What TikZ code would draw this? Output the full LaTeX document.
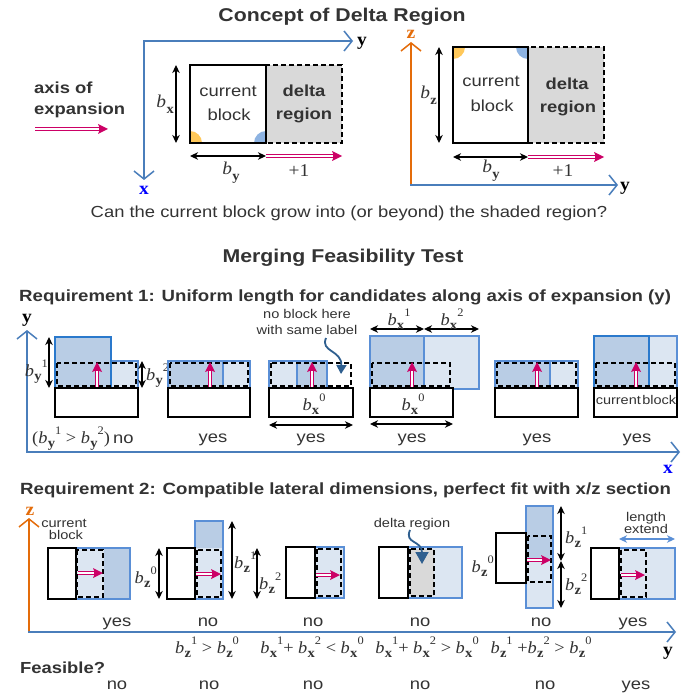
\documentclass[tikz,border=0pt]{standalone}
\usepackage{fontspec}
\setmainfont[FakeStretch=1.15]{Liberation Sans}
\newfontfamily\tms[FakeStretch=1.08]{Liberation Serif}
\usetikzlibrary{arrows.meta,calc}

\definecolor{axb}{HTML}{4A7EBB}
\definecolor{axo}{HTML}{E46C0A}
\definecolor{bdr}{HTML}{5A8FD6}
\definecolor{bdrd}{HTML}{2A79CC}
\definecolor{fdk}{HTML}{B9CDE5}
\definecolor{flt}{HTML}{DCE6F2}
\definecolor{dgray}{HTML}{D9D9D9}
\definecolor{pk}{HTML}{CC0066}
\definecolor{txt}{HTML}{333333}
\definecolor{cur}{HTML}{2F5F8F}
\definecolor{qy}{HTML}{FFC85A}
\definecolor{qb}{HTML}{8DB3E2}

% font size helper and the b_{x}^{n} dimension symbol
\newcommand\fs[1]{\fontsize{#1}{#1}\selectfont}
\newcommand\bl[2]{{\itshape b}\kern0.3pt\raisebox{-0.28em}{\fs{13.5}\bfseries #1}\raisebox{0.5em}{\fs{11.5}#2}}

\tikzset{
  axisarr/.style={line width=1.8pt, line cap=rect, -{Straight Barb[length=8pt,width=20pt,line width=1.5pt]}},
  cblock/.style={draw=black, line width=2.4pt, fill=white},
  cand/.style={draw=bdr, line width=2pt},
  dsh/.style={draw=black, line width=1.7pt, dash pattern=on 5pt off 3pt},
  dimarr/.style={line width=1.1pt, {Stealth[length=8pt,width=7.5pt,inset=2.5pt]}-{Stealth[length=8pt,width=7.5pt,inset=2.5pt]}},
  growarr/.style={draw=pk, line width=3.8pt, -{Stealth[length=10pt,width=10pt,inset=2pt,line width=0pt]},
    postaction={draw=white, line width=1.4pt, arrows=-, shorten >=9pt}},
  pointer/.style={draw=cur, line width=1.8pt, -{Triangle[length=9pt,width=10pt]}},
  lbl/.style={inner sep=0pt, text=txt},
  sanslbl/.style={lbl, font=\fs{16}},
  bsanslbl/.style={lbl, font=\fs{16}\bfseries},
  smalllbl/.style={lbl, font=\fs{12.7}},
  mlbl/.style={lbl, font=\tms\fs{17}},
  axl/.style={inner sep=0pt, font=\tms\fs{18}\bfseries},
}

\begin{document}
\begin{tikzpicture}[x=1pt,y=-1pt]
\fill[white] (0,0) rectangle (698,695);
\useasboundingbox (0,0) rectangle (698,695);

% ---------------- Concept of Delta Region ----------------
\node[lbl, font=\fs{18.5}\bfseries, anchor=base] (title1) at (342,22) {Concept of Delta Region};

% x/y view
\draw[axisarr, axb] (144,41) -- (353,41);
\draw[axisarr, axb] (144,41) -- (144,180);
\node[axl, anchor=base] (ay1) at (362,46) {y};
\node[axl, anchor=base, text=blue] (ax1) at (144,194) {x};

\node[bsanslbl, anchor=base west] (aoe1) at (34,94) {axis of};
\node[bsanslbl, anchor=base west] (aoe2) at (34,115) {expansion};
\draw[growarr] (35,129) -- (108,129);

\filldraw[fill=dgray, dsh] (266,65) rectangle (342,143);
\fill[white] (190,65) rectangle (266,143);
\begin{scope}
  \clip (190,65) rectangle (266,143);
  \fill[qy] (190,143) circle[radius=12];
  \fill[qb] (266,143) circle[radius=12];
\end{scope}
\draw[line width=2.4pt] (190,65) rectangle (266,143);
\node[sanslbl, anchor=base] (cb1a) at (228,97) {current};
\node[sanslbl, anchor=base] (cb1b) at (229,121) {block};
\node[bsanslbl, anchor=base] (dr1a) at (304,97) {delta};
\node[bsanslbl, anchor=base] (dr1b) at (304,120) {region};
\draw[dimarr] (176,65) -- (176,143);
\node[mlbl, font=\tms\fs{18}, anchor=base east] (bx1) at (174,108) {\bl{x}{}};
\draw[dimarr] (190,156) -- (266,156);
\node[mlbl, font=\tms\fs{18}, anchor=base] (by1) at (231,175) {\bl{y}{}};
\draw[growarr] (266,156) -- (342,156);
\node[mlbl, font=\tms\fs{18}, anchor=base] (p1) at (299,177) {+1};

% y/z view
\draw[axisarr, axo] (411,185) -- (411,42);
\draw[axisarr, axb] (411,185) -- (618,185);
\node[axl, anchor=base, text=axo] (az1) at (411,39) {z};
\node[axl, anchor=base] (ay2) at (625,190) {y};

\filldraw[fill=dgray, dsh] (528,47) rectangle (604,143);
\fill[white] (453,47) rectangle (528,143);
\begin{scope}
  \clip (453,47) rectangle (528,143);
  \fill[qy] (453,47) circle[radius=12];
  \fill[qb] (528,47) circle[radius=12];
\end{scope}
\draw[line width=2.4pt] (453,47) rectangle (528,143);
\node[sanslbl, anchor=base] (cb2a) at (491,87) {current};
\node[sanslbl, anchor=base] (cb2b) at (492,112) {block};
\node[bsanslbl, anchor=base] (dr2a) at (567,90) {delta};
\node[bsanslbl, anchor=base] (dr2b) at (568,113) {region};
\draw[dimarr] (439,47) -- (439,143);
\node[mlbl, font=\tms\fs{18}, anchor=base east] (bz1) at (437,99) {\bl{z}{}};
\draw[dimarr] (453,157) -- (528,157);
\node[mlbl, font=\tms\fs{18}, anchor=base] (by2) at (491,173) {\bl{y}{}};
\draw[growarr] (528,157) -- (604,157);
\node[mlbl, font=\tms\fs{18}, anchor=base] (p2) at (563,176) {+1};

\node[sanslbl, anchor=base] (q1) at (349,217) {Can the current block grow into (or beyond) the shaded region?};

% ---------------- Merging Feasibility Test ----------------
\node[lbl, font=\fs{18.5}\bfseries, anchor=base] (title2) at (343,262) {Merging Feasibility Test};

% Requirement 1
\node[lbl, font=\fs{16.2}\bfseries, anchor=base west] (r1) at (19,301) {Requirement 1: Uniform length for candidates along axis of expansion (y)};
\draw[axisarr, axb] (27,452) -- (27,330);
\draw[axisarr, axb] (27,452) -- (680,452);
\node[axl, anchor=base] (ay3) at (27,322) {y};
\node[axl, anchor=base, text=blue] (ax3) at (668,473) {x};

% case 1
\filldraw[fill=flt, cand] (111,361) rectangle (138,388);
\filldraw[fill=fdk, cand, draw=bdrd] (55,337) rectangle (111,388);
\draw[dsh] (57,363) rectangle (136,386);
\draw[growarr] (97,388) -- (97,362);
\draw[cblock] (55,388) rectangle (138,417);
\draw[dimarr] (49,337) -- (49,388);
\draw[dimarr] (142,361) -- (142,388);
\node[mlbl, anchor=base east] (l1a) at (48,376) {\bl{y}{1}};
\node[mlbl, anchor=base west] (l1b) at (146,380) {\bl{y}{2}};
\node[lbl, anchor=base west] (v1) at (32,443) {{\tms\fs{17}(\bl{y}{1} > \bl{y}{2})} {\fs{16}no}};

% case 2
\filldraw[fill=fdk, cand] (168,361) rectangle (223,388);
\filldraw[fill=flt, cand] (223,361) rectangle (250,388);
\draw[dsh] (170,363) rectangle (248,386);
\draw[growarr] (210,388) -- (210,362);
\draw[cblock] (168,388) rectangle (250,417);
\node[sanslbl, anchor=base] (v2) at (213,442) {yes};

% case 3
\filldraw[fill=flt, cand] (269,361) rectangle (297,388);
\filldraw[fill=fdk, cand] (297,361) rectangle (327,388);
\draw[dsh] (271,363) rectangle (351,386);
\draw[growarr] (312,388) -- (312,362);
\draw[cblock] (269,388) rectangle (353,417);
\node[mlbl, anchor=base] (l3) at (314,410) {\bl{x}{0}};
\draw[dimarr] (269,425) -- (353,425);
\node[sanslbl, anchor=base] (v3) at (311,442) {yes};
\node[smalllbl, anchor=base] (nb1) at (307,318) {no block here};
\node[smalllbl, anchor=base] (nb2) at (307,334) {with same label};
\coordinate (nbs) at (326,338);
\coordinate (nbe) at (341,374);
\draw[pointer] (nbs) .. controls (320,352) and (342,350) .. (nbe);

% case 4
\filldraw[fill=fdk, cand] (370,336) rectangle (424,388);
\filldraw[fill=flt, cand] (424,336) rectangle (479,389);
\draw[dsh] (372,363) rectangle (450,386);
\draw[growarr] (412,388) -- (412,362);
\draw[cblock] (370,388) rectangle (453,417);
\node[mlbl, anchor=base] (l4) at (413,410) {\bl{x}{0}};
\draw[dimarr] (370,329) -- (424,329);
\draw[dimarr] (424,329) -- (479,329);
\node[mlbl, anchor=base] (l4a) at (399,325) {\bl{x}{1}};
\node[mlbl, anchor=base] (l4b) at (452,325) {\bl{x}{2}};
\draw[dimarr] (370,424) -- (453,424);
\node[sanslbl, anchor=base] (v4) at (412,442) {yes};

% case 5
\filldraw[fill=fdk, cand] (495,361) rectangle (550,388);
\filldraw[fill=flt, cand] (550,361) rectangle (578,388);
\draw[dsh] (497,363) rectangle (576,386);
\draw[growarr] (537,388) -- (537,362);
\draw[cblock] (495,388) rectangle (578,417);
\node[sanslbl, anchor=base] (v5) at (537,442) {yes};

% case 6
\filldraw[fill=flt, cand] (649,336) rectangle (677,388);
\filldraw[fill=fdk, cand, draw=bdrd] (594,336) rectangle (649,388);
\draw[dsh] (596,363) rectangle (675,386);
\draw[growarr] (636,388) -- (636,362);
\draw[cblock] (594,388) rectangle (677,417);
\node[lbl, font=\fs{12.6}, anchor=base] (cb6) at (636,404) {current\kern1.5pt block};
\node[sanslbl, anchor=base] (v6) at (637,442) {yes};

% Requirement 2
\node[lbl, font=\fs{16.2}\bfseries, anchor=base west] (r2) at (20,494) {Requirement 2: Compatible lateral dimensions, perfect fit with x/z section};
\draw[axisarr, axo] (29,632) -- (29,518);
\draw[axisarr, axb] (29,632) -- (676,632);
\node[axl, anchor=base, text=axo] (az3) at (30,515) {z};
\node[axl, anchor=base] (ay4) at (668,655) {y};

% case 1
\fill[flt] (76,548) rectangle (104,599);
\fill[fdk] (104,548) rectangle (130,599);
\draw[cand] (76,548) rectangle (130,599);
\draw[dsh] (77,550) rectangle (103,597);
\draw[growarr] (78,573) -- (103,573);
\draw[cblock] (48,548) rectangle (76,599);
\node[smalllbl, anchor=base] (cc1) at (64,527) {current};
\node[smalllbl, anchor=base] (cc2) at (66,539) {block};
\node[sanslbl, anchor=base] (w1) at (117,626) {yes};

% case 2
\fill[fdk] (195,521) rectangle (223,548);
\fill[flt] (195,548) rectangle (223,599);
\draw[cand] (195,521) rectangle (223,599);
\draw[dsh] (197,550) rectangle (221,597);
\draw[growarr] (196,574) -- (221,574);
\draw[cblock] (167,548) rectangle (195,599);
\draw[dimarr] (159,548) -- (159,599);
\draw[dimarr] (232,521) -- (232,599);
\draw[dimarr] (257,548) -- (257,599);
\node[mlbl, anchor=base east] (z2a) at (157,583) {\bl{z}{0}};
\node[mlbl, anchor=base west] (z2b) at (234,568) {\bl{z}{1}};
\node[mlbl, anchor=base west] (z2c) at (259,589) {\bl{z}{2}};
\node[sanslbl, anchor=base] (w2) at (208,626) {no};

% case 3
\filldraw[fill=flt, cand] (315,547) rectangle (344,598);
\draw[dsh] (317,549) rectangle (341,596);
\draw[growarr] (316,575) -- (340,575);
\draw[cblock] (286,547) rectangle (315,598);
\node[sanslbl, anchor=base] (w3) at (313,626) {no};

% case 4
\filldraw[fill=flt, cand] (408,547) rectangle (462,598);
\filldraw[fill=dgray, dsh] (410,549) rectangle (434,596);
\draw[cblock] (379,547) rectangle (408,598);
\node[smalllbl, anchor=base] (dl) at (412,527) {delta region};
\coordinate (dls) at (410,530);
\coordinate (dle) at (422,564);
\draw[pointer, -{Triangle[length=12pt,width=13pt]}] (dls) .. controls (404,544) and (422,540) .. (dle);
\node[sanslbl, anchor=base] (w4) at (420,626) {no};

% case 5
\fill[fdk] (526,506) rectangle (553,561);
\fill[flt] (526,561) rectangle (553,608);
\draw[cand] (526,506) rectangle (553,608);
\draw[dsh] (528,536) rectangle (551,582);
\draw[growarr] (527,560) -- (551,560);
\draw[cblock] (496,533) rectangle (526,583);
\draw[dimarr] (561,506) -- (561,561);
\draw[dimarr] (561,561) -- (561,608);
\node[mlbl, anchor=base east] (z5a) at (494,572) {\bl{z}{0}};
\node[mlbl, anchor=base west] (z5b) at (565,543) {\bl{z}{1}};
\node[mlbl, anchor=base west] (z5c) at (565,590) {\bl{z}{2}};
\node[sanslbl, anchor=base] (w5) at (541,626) {no};

% case 6
\filldraw[fill=flt, cand] (619,548) rectangle (675,599);
\draw[dsh] (621,550) rectangle (646,597);
\draw[growarr] (621,575) -- (645,575);
\draw[cblock] (591,548) rectangle (619,599);
\draw[dimarr, bdr] (619,539) -- (675,539);
\node[smalllbl, anchor=base] (le1) at (646,521) {length};
\node[smalllbl, anchor=base] (le2) at (646,533) {extend};
\node[sanslbl, anchor=base] (w6) at (633,626) {yes};

% conditions
\node[mlbl, anchor=base] (c2) at (207,653) {\bl{z}{1} > \bl{z}{0}};
\node[mlbl, anchor=base] (c3) at (312,653) {\bl{x}{1}+ \bl{x}{2} < \bl{x}{0}};
\node[mlbl, anchor=base] (c4) at (427,653) {\bl{x}{1}+ \bl{x}{2} > \bl{x}{0}};
\node[mlbl, anchor=base] (c5) at (541,653) {\bl{z}{1} +\bl{z}{2} > \bl{z}{0}};

% feasibility row
\node[bsanslbl, anchor=base west] (fz) at (20,673) {Feasible?};
\node[sanslbl, anchor=base] (f1) at (117,689) {no};
\node[sanslbl, anchor=base] (f2) at (209,689) {no};
\node[sanslbl, anchor=base] (f3) at (313,689) {no};
\node[sanslbl, anchor=base] (f4) at (420,689) {no};
\node[sanslbl, anchor=base] (f5) at (545,689) {no};
\node[sanslbl, anchor=base] (f6) at (636,689) {yes};
\end{tikzpicture}
\end{document}
